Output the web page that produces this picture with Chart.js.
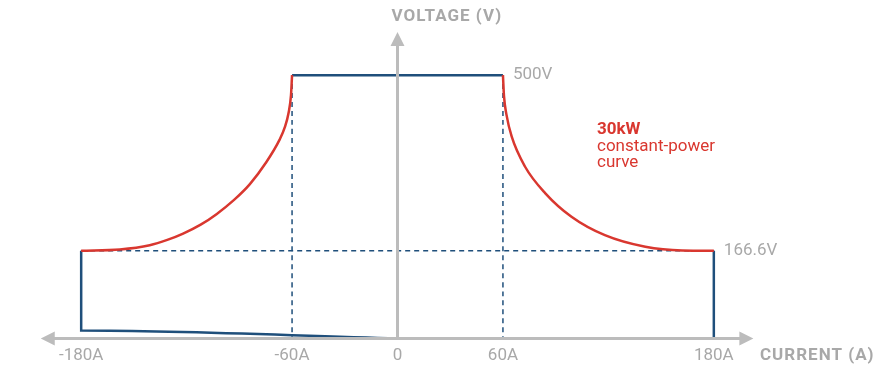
<!DOCTYPE html>
<html>
<head>
<meta charset="utf-8">
<script src="https://cdn.jsdelivr.net/npm/chart.js@4"></script>
<style>
  body { margin: 0; background: #fff; }
  #wrap { width: 879px; height: 370px; position: relative; }
</style>
</head>
<body>
<div id="wrap"><canvas id="vi"></canvas></div>
<script>
// current axis ticks (A)
const currentTicks = [-180, -60, 0, 60, 180];
const currentLabels = ['-180A', '-60A', '0', '60A', '180A'];

// 30kW constant-power curve
const leftCurveI  = [-180, -158, -141, -131, -122, -112, -103, -93, -84, -75, -67, -64, -62, -60.6, -60];
const leftCurveV  = [166.6, 169, 177, 187, 199, 216, 236, 263, 293, 333, 378, 402, 428, 462, 500];
const rightCurveI = [60, 60.6, 62, 65, 72.6, 84, 99, 118, 141, 162, 180];
const rightCurveV = [500, 460, 425, 383, 326, 276, 231, 196, 174, 167, 166.6];

// operating envelope edges
const lowerEdgeI = [0, -180, -180];
const lowerEdgeV = [0, 15, 166.6];
const topEdgeI = [-60, 60];
const topEdgeV = [500, 500];
const rightEdgeI = [180, 180];
const rightEdgeV = [166.6, 0];

// dashed guides
const guideHI = [-180, 180];
const guideHV = [166.6, 166.6];
const guideLeftI = [-60, -60];
const guideRightI = [60, 60];
const guideVV = [500, 0];

// voltage marks
const voltMarks = [500, 166.6];
const voltLabels = ['500V', '166.6V'];
const voltMarkAt = [60, 180];

const BLUE = '#1f4f7b';
const RED = '#d9372f';
const GREY = '#bcbcbc';
const TEXT = '#a8a8a8';

function pts(xs, ys) {
    var out = [];
    for (var i = 0; i < xs.length; i++) {
        out.push({ x: xs[i], y: ys[i] });
    }
    return out;
}

function line(xs, ys, color, width, dash, order) {
    return {
        data: pts(xs, ys),
        showLine: true,
        borderColor: color,
        borderWidth: width,
        borderDash: dash,
        pointRadius: 0,
        fill: false,
        order: order,
        clip: false,
        cubicInterpolationMode: 'monotone'
    };
}

const axesPlugin = {
    id: 'axes',
    afterDatasetsDraw(chart) {
        const ctx = chart.ctx;
        const xs = chart.scales.x;
        const ys = chart.scales.y;
        const x0 = xs.getPixelForValue(0);
        const y0 = ys.getPixelForValue(0);
        const xl = xs.getPixelForValue(-203);
        const xr = xs.getPixelForValue(202.5);
        const yt = ys.getPixelForValue(582);

        ctx.save();
        ctx.strokeStyle = GREY;
        ctx.fillStyle = GREY;
        ctx.lineWidth = 3;
        ctx.beginPath();
        ctx.moveTo(xl + 10, y0);
        ctx.lineTo(xr - 10, y0);
        ctx.moveTo(x0, y0);
        ctx.lineTo(x0, yt + 10);
        ctx.stroke();

        // arrow heads
        ctx.beginPath();
        ctx.moveTo(xl, y0);
        ctx.lineTo(xl + 14, y0 - 7);
        ctx.lineTo(xl + 14, y0 + 7);
        ctx.closePath();
        ctx.moveTo(xr, y0);
        ctx.lineTo(xr - 14, y0 - 7);
        ctx.lineTo(xr - 14, y0 + 7);
        ctx.closePath();
        ctx.moveTo(x0, yt);
        ctx.lineTo(x0 - 7, yt + 14);
        ctx.lineTo(x0 + 7, yt + 14);
        ctx.closePath();
        ctx.fill();
        ctx.restore();
    },
    afterDraw(chart) {
        const ctx = chart.ctx;
        const xs = chart.scales.x;
        const ys = chart.scales.y;
        const x0 = xs.getPixelForValue(0);
        const y0 = ys.getPixelForValue(0);

        ctx.save();
        ctx.textBaseline = 'middle';
        ctx.fillStyle = TEXT;
        ctx.font = '17px Roboto';
        ctx.textAlign = 'center';
        for (var i = 0; i < currentTicks.length; i++) {
            ctx.fillText(currentLabels[i], xs.getPixelForValue(currentTicks[i]), y0 + 17);
        }
        ctx.textAlign = 'left';
        for (var j = 0; j < voltMarks.length; j++) {
            ctx.fillText(voltLabels[j], xs.getPixelForValue(voltMarkAt[j]) + 10, ys.getPixelForValue(voltMarks[j]));
        }

        ctx.font = 'bold 17px Roboto';
        ctx.letterSpacing = '1px';
        ctx.fillText('VOLTAGE (V)', x0 - 6, 17);
        ctx.fillText('CURRENT (A)', 760, y0 + 17);
        ctx.letterSpacing = '0px';

        ctx.fillStyle = RED;
        ctx.textBaseline = 'alphabetic';
        ctx.fillText('30kW', 597, 134);
        ctx.font = '17px Roboto';
        ctx.fillText('constant-power', 597, 151);
        ctx.fillText('curve', 597, 167);
        ctx.restore();
    }
};

new Chart(document.getElementById('vi'), {
    type: 'scatter',
    data: {
        datasets: [
            line(guideHI, guideHV, BLUE, 1.5, [5, 4], 3),
            line(guideLeftI, guideVV, BLUE, 1.5, [5, 4], 3),
            line(guideRightI, guideVV, BLUE, 1.5, [5, 4], 3),
            line(lowerEdgeI, lowerEdgeV, BLUE, 2.5, [], 2),
            line(topEdgeI, topEdgeV, BLUE, 2.5, [], 2),
            line(rightEdgeI, rightEdgeV, BLUE, 2.5, [], 2),
            line(leftCurveI, leftCurveV, RED, 2.5, [], 1),
            line(rightCurveI, rightCurveV, RED, 2.5, [], 1)
        ]
    },
    options: {
        responsive: true,
        maintainAspectRatio: false,
        animation: false,
        layout: { padding: { left: 39, right: 123, top: 33, bottom: 0 } },
        plugins: { legend: { display: false }, tooltip: { enabled: false } },
        scales: {
            x: { type: 'linear', min: -204, max: 204, display: false },
            y: { type: 'linear', min: -60, max: 580, display: false }
        }
    },
    plugins: [axesPlugin]
});
</script>
</body>
</html>
